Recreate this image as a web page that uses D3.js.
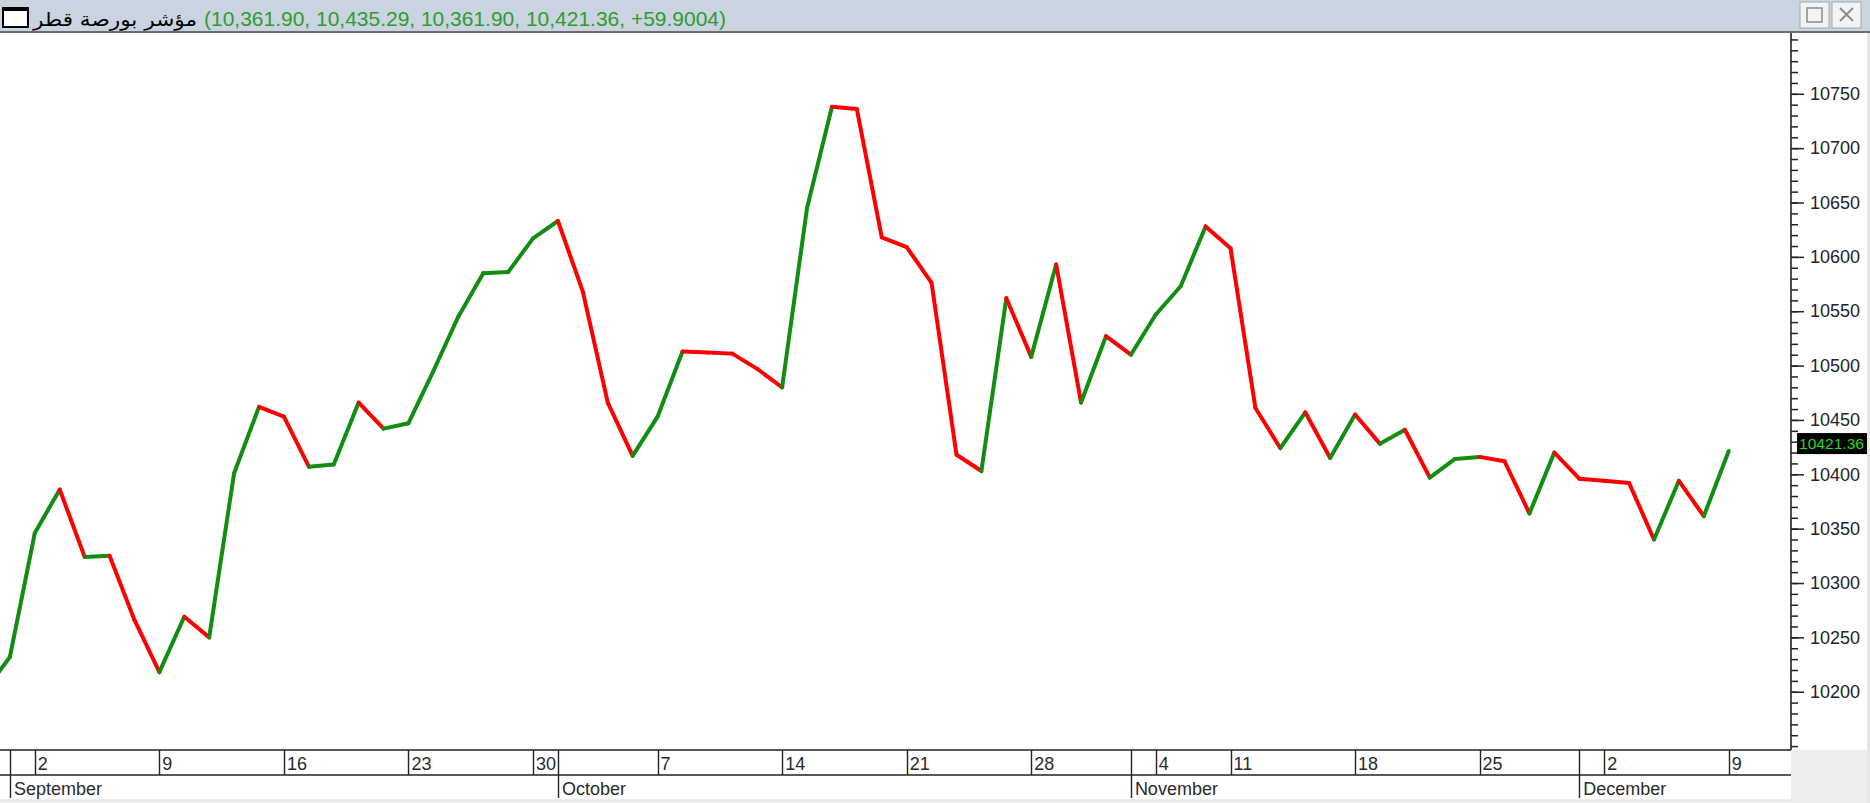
<!DOCTYPE html>
<html>
<head>
<meta charset="utf-8">
<script src="https://cdn.jsdelivr.net/npm/d3@7"></script>
<style>
  html, body { margin: 0; padding: 0; background: #ffffff; }
  svg { display: block; }
</style>
</head>
<body>
<svg id="chart" width="1870" height="803"></svg>
<script>
// ---- DATA ----
const titleName = "مؤشر بورصة قطر";
const titleValues = "(10,361.90, 10,435.29, 10,361.90, 10,421.36, +59.9004)";
const lastValueLabel = "10421.36";

// daily closes by trading-day index (0 = 29 Aug, 1 = 1 Sep ... 70 = 9 Dec)
const closes = [
  10201, 10232, 10346, 10386, 10324, 10325, 10266, 10218, 10269, 10250,
  10401, 10462, 10453, 10407, 10409, 10466, 10442, 10447, 10495, 10545,
  10585, 10586, 10617, 10633, 10568, 10466, 10417, 10453, 10513, 10512,
  10511, 10497, 10480, 10645, 10738, 10736, 10618, 10609, 10576, 10418,
  10403, 10562, 10508, 10593, 10466, 10527, 10510, 10547, 10573, 10628,
  10608, 10461, 10424, 10457, 10415, 10455, 10428, 10441, 10397, 10414,
  10416, 10412, 10364, 10420, 10396, 10394, 10392, 10340, 10394, 10361.46,
  10421.36
];

const weekTickIdx    = [2, 7, 12, 17, 22, 27, 32, 37, 42, 47, 50, 55, 60, 65, 70];
const weekTickLabels = ["2", "9", "16", "23", "30", "7", "14", "21", "28", "4", "11", "18", "25", "2", "9"];
const monthTickIdx    = [1, 23, 46, 64];
const monthTickLabels = ["September", "October", "November", "December"];

const yMajorTicks = [10200, 10250, 10300, 10350, 10400, 10450, 10500, 10550, 10600, 10650, 10700, 10750];
const yMinorTicks = d3.range(10150, 10810, 10);

// ---- LAYOUT ----
const W = 1870, H = 803;
const plotTop = 34, plotBottom = 750, axisX = 1791;
const GREEN = "#118e11", RED = "#ff0000";

const svg = d3.select("#chart");

const x = d3.scaleLinear().domain([0, 72.5]).range([-15, axisX]);
const y = d3.scaleLinear().domain([10146.4, 10805]).range([plotBottom, plotTop]);

// backgrounds
svg.append("rect").attr("x", 0).attr("y", 0).attr("width", W).attr("height", H).attr("fill", "#ffffff");
svg.append("rect").attr("x", axisX).attr("y", plotBottom).attr("width", W - axisX).attr("height", H - plotBottom).attr("fill", "#eeeeee");
svg.append("rect").attr("x", 0).attr("y", 800).attr("width", W).attr("height", 3).attr("fill", "#eeeeee");
svg.append("rect").attr("x", W - 3).attr("y", 33).attr("width", 3).attr("height", H - 33).attr("fill", "#e6e6e6");

// ---- LINE (segments coloured by direction) ----
svg.append("clipPath").attr("id", "plotclip")
  .append("rect").attr("x", 0).attr("y", plotTop).attr("width", axisX).attr("height", plotBottom - plotTop);

const segs = d3.range(closes.length - 1).map(i => ({ i, a: closes[i], b: closes[i + 1] }));
svg.append("g").attr("clip-path", "url(#plotclip)")
  .selectAll("line").data(segs).join("line")
  .attr("x1", d => x(d.i)).attr("y1", d => y(d.a))
  .attr("x2", d => x(d.i + 1)).attr("y2", d => y(d.b))
  .attr("stroke", d => d.b >= d.a ? GREEN : RED)
  .attr("stroke-width", 4)
  .attr("stroke-linecap", "round");

// ---- Y AXIS (right) ----
const yMinor = d3.axisRight(y).tickValues(yMinorTicks.filter(v => y(v) > plotTop && y(v) < plotBottom))
  .tickSize(7).tickFormat("");
const gMinor = svg.append("g").attr("transform", `translate(${axisX},0)`).call(yMinor);
gMinor.select(".domain").remove();
gMinor.selectAll("line").attr("stroke", "#222").attr("stroke-width", 1.5);

const yMajor = d3.axisRight(y).tickValues(yMajorTicks).tickSize(13).tickPadding(6).tickFormat(d3.format("d"));
const gMajor = svg.append("g").attr("transform", `translate(${axisX},0)`).call(yMajor);
gMajor.select(".domain").remove();
gMajor.selectAll("line").attr("stroke", "#222").attr("stroke-width", 1.5);
gMajor.selectAll("text")
  .attr("font-family", "'Liberation Sans', Arial, sans-serif")
  .attr("font-size", 18).attr("fill", "#22222e");

svg.append("line").attr("x1", axisX).attr("x2", axisX).attr("y1", 33).attr("y2", plotBottom)
  .attr("stroke", "#222").attr("stroke-width", 1.6);

// last value marker
const lastY = y(closes[closes.length - 1]);
svg.append("rect").attr("x", 1797).attr("y", lastY - 18).attr("width", 70).attr("height", 21).attr("fill", "#000");
svg.append("text").attr("x", 1799).attr("y", lastY - 2)
  .attr("font-family", "'Liberation Sans', Arial, sans-serif").attr("font-size", 15)
  .attr("textLength", 65).attr("lengthAdjust", "spacingAndGlyphs")
  .attr("fill", "#22dd22").text(lastValueLabel);

// ---- X AXIS (date rows) ----
const gx = svg.append("g");
gx.append("line").attr("x1", 0).attr("x2", axisX).attr("y1", plotBottom).attr("y2", plotBottom)
  .attr("stroke", "#222").attr("stroke-width", 1.6);
gx.append("line").attr("x1", 0).attr("x2", axisX).attr("y1", 775).attr("y2", 775)
  .attr("stroke", "#222").attr("stroke-width", 1.4);
gx.append("line").attr("x1", 0).attr("x2", axisX).attr("y1", 800).attr("y2", 800)
  .attr("stroke", "#dddddd").attr("stroke-width", 1);

const weeks = weekTickIdx.map((d, k) => ({ idx: d, label: weekTickLabels[k] }));
const months = monthTickIdx.map((d, k) => ({ idx: d, label: monthTickLabels[k] }));

gx.selectAll(".wk").data(weeks).join("line").attr("class", "wk")
  .attr("x1", d => Math.round(x(d.idx)) + 0.5).attr("x2", d => Math.round(x(d.idx)) + 0.5)
  .attr("y1", plotBottom).attr("y2", 775).attr("stroke", "#222").attr("stroke-width", 1.4);
gx.selectAll(".wkt").data(weeks).join("text").attr("class", "wkt")
  .attr("x", d => x(d.idx) + 3).attr("y", 770)
  .attr("font-family", "'Liberation Sans', Arial, sans-serif").attr("font-size", 18)
  .attr("fill", "#2a2a2a").text(d => d.label);

gx.selectAll(".mo").data(months).join("line").attr("class", "mo")
  .attr("x1", d => Math.round(x(d.idx)) + 0.5).attr("x2", d => Math.round(x(d.idx)) + 0.5)
  .attr("y1", plotBottom).attr("y2", 798).attr("stroke", "#222").attr("stroke-width", 1.4);
gx.selectAll(".mot").data(months).join("text").attr("class", "mot")
  .attr("x", d => x(d.idx) + 4).attr("y", 795)
  .attr("font-family", "'Liberation Sans', Arial, sans-serif").attr("font-size", 18)
  .attr("fill", "#2a2a2a").text(d => d.label);

// ---- TITLE BAR ----
const tb = svg.append("g");
tb.append("rect").attr("x", 0).attr("y", 0).attr("width", W).attr("height", 32).attr("fill", "#c9d4e0");
tb.append("rect").attr("x", 0).attr("y", 31).attr("width", W).attr("height", 2).attr("fill", "#6e6e6e");
// window icon
tb.append("rect").attr("x", 3).attr("y", 8).attr("width", 25).attr("height", 19)
  .attr("fill", "#fff").attr("stroke", "#000").attr("stroke-width", 2);
tb.append("rect").attr("x", 3).attr("y", 8).attr("width", 25).attr("height", 3).attr("fill", "#000");
tb.append("text").attr("x", 33).attr("y", 26)
  .attr("font-family", "'DejaVu Sans', 'Noto Sans', sans-serif").attr("font-size", 19)
  .attr("textLength", 164).attr("lengthAdjust", "spacingAndGlyphs")
  .attr("fill", "#000").text(titleName);
tb.append("text").attr("x", 204).attr("y", 26)
  .attr("font-family", "'Liberation Sans', Arial, sans-serif").attr("font-size", 21)
  .attr("textLength", 522).attr("lengthAdjust", "spacingAndGlyphs")
  .attr("fill", "#2f9b2f").text(titleValues);
// window buttons
[1800, 1832].forEach((bx, k) => {
  tb.append("rect").attr("x", bx).attr("y", 2).attr("width", 29).attr("height", 26)
    .attr("fill", "#f3f3f3").attr("stroke", "#a8a8a8").attr("stroke-width", 1);
  if (k === 0) {
    tb.append("rect").attr("x", bx + 7).attr("y", 8).attr("width", 15).attr("height", 14)
      .attr("fill", "none").attr("stroke", "#8a8a8a").attr("stroke-width", 1.5);
  } else {
    tb.append("path").attr("d", `M${bx + 8},${8} L${bx + 21},${21} M${bx + 21},${8} L${bx + 8},${21}`)
      .attr("stroke", "#8a8a8a").attr("stroke-width", 1.8);
  }
});
</script>
</body>
</html>
